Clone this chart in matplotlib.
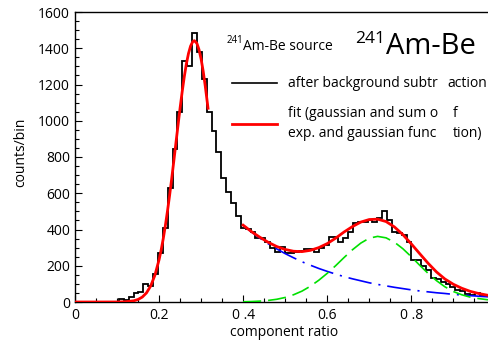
import numpy as np
import matplotlib
matplotlib.use("Agg")
import matplotlib.pyplot as plt
from matplotlib.ticker import MultipleLocator, FixedLocator, FixedFormatter
from matplotlib.lines import Line2D

plt.rcParams['font.family'] = ['Open Sans', 'DejaVu Sans']
plt.rcParams['lines.scale_dashes'] = False

# ---------------- data ----------------
bin_width = 0.0116
counts = [0, 0, 0, 0, 0, 0, 0, 0, 0, 15,
          10, 25, 48, 55, 99, 90, 155, 272, 406, 627,
          844, 1046, 1331, 1302, 1482, 1381, 1230, 1046, 945, 826,
          682, 608, 544, 474, 410, 405, 386, 351, 351, 333,
          296, 278, 305, 268, 272, 278, 284, 290, 290, 278,
          296, 314, 360, 360, 333, 351, 386, 434, 443, 440,
          450, 443, 462, 504, 455, 388, 379, 370, 333, 232,
          232, 198, 177, 131, 125, 110, 99, 85, 68, 63,
          42, 40, 52, 39, 38]

peak_fit_x = [0.0, 0.05, 0.10, 0.12, 0.14, 0.15, 0.16, 0.17, 0.18, 0.19,
              0.20, 0.205, 0.21, 0.215, 0.22, 0.225, 0.23, 0.235, 0.24, 0.245,
              0.25, 0.255, 0.26, 0.265, 0.27, 0.275, 0.28, 0.284, 0.29, 0.295,
              0.30, 0.305, 0.31, 0.3165]
peak_fit_y = [0, 0, 0.2, 1.4, 6.8, 14, 27, 50, 88, 147,
              233, 287, 350, 422, 501, 587, 679, 776, 875, 973,
              1070, 1160, 1243, 1314, 1371, 1412, 1436, 1442, 1427, 1393,
              1341, 1273, 1190, 1069]

tail_x = [0.40, 0.42, 0.44, 0.46, 0.48, 0.50, 0.52, 0.54, 0.56, 0.58,
          0.60, 0.62, 0.64, 0.66, 0.68, 0.70, 0.72, 0.74, 0.76, 0.78,
          0.80, 0.82, 0.84, 0.86, 0.88, 0.90, 0.92, 0.94, 0.96, 0.98, 0.99]
exp_part = [423, 386, 352, 321, 293, 267, 244, 222, 203, 185,
            169, 154, 140, 128, 117, 106, 97, 89, 81, 74,
            67, 61, 56, 51, 47, 42, 39, 35, 32, 29, 28]
gaus_part = [1.3, 2.5, 4.8, 8.7, 15, 25, 40, 60, 87, 120,
             158, 200, 245, 288, 325, 352, 362, 354, 330, 294,
             250, 203, 158, 118, 84, 58, 40, 27, 19, 13, 11]
sum_fit = [424, 388, 357, 329, 306, 290, 280, 278, 285, 300,
           322, 352, 386, 416, 441, 455, 457, 444, 414, 372,
           321, 267, 214, 166, 127, 98, 76, 59, 47, 38, 35]

xtick_values = [0, 0.2, 0.4, 0.6, 0.8]
xtick_labels = ["0", "0.2", "0 .4", "0.6", "0 .8"]
ytick_values = [0, 200, 400, 600, 800, 1000, 1200, 1400, 1600]
ytick_labels = [str(v) for v in ytick_values]

# ---------------- figure ----------------
W, H = 489, 343
fig = plt.figure(figsize=(W / 100, H / 100), dpi=100)
ax = fig.add_axes([75 / W, 41 / H, 414 / W, 290 / H])

edges = np.arange(len(counts) + 1) * bin_width
ax.stairs(counts, edges, color='black', lw=1.3, zorder=2)

ax.plot(tail_x, exp_part, color='#0000ff', lw=1.2,
        linestyle=(0, (17, 5, 1.5, 5)), zorder=3)
ax.plot(tail_x, gaus_part, color='#00e000', lw=1.2,
        linestyle=(0, (13, 5)), zorder=3)
ax.plot(tail_x, sum_fit, color='#ff0000', lw=2.0, zorder=4)
ax.plot(peak_fit_x, peak_fit_y, color='#ff0000', lw=2.0, zorder=4)

ax.set_xlim(0, 0.985)
ax.set_ylim(0, 1600)

ax.xaxis.set_major_locator(FixedLocator(xtick_values))
ax.xaxis.set_major_formatter(FixedFormatter(xtick_labels))
ax.xaxis.set_minor_locator(MultipleLocator(0.05))
ax.yaxis.set_major_locator(FixedLocator(ytick_values))
ax.yaxis.set_major_formatter(FixedFormatter(ytick_labels))
ax.yaxis.set_minor_locator(MultipleLocator(50))

ax.tick_params(which='both', direction='in', top=False, right=False,
               width=0.8, labelsize=10)
ax.tick_params(which='major', length=5)
ax.tick_params(which='minor', length=3)
ax.tick_params(axis='x', pad=4)
ax.tick_params(axis='y', pad=3.5)

for s in ['left', 'bottom', 'top']:
    ax.spines[s].set_linewidth(1.0)
ax.spines['right'].set_visible(False)


def px(x, y):
    return x / W, 1 - y / H


fig.text(*px(21, 152), "counts/bin", rotation=90, ha='center', va='center', fontsize=10)
fig.text(*px(284, 333), "component ratio", ha='center', va='center', fontsize=10)

# source labels
fig.text(*px(227, 42.7), "241", fontsize=7, va='baseline', ha='left')
fig.text(*px(243, 50), "Am-Be source", fontsize=10, va='baseline', ha='left')
fig.text(*px(355, 43), "241", fontsize=12.5, va='baseline', ha='left')
fig.text(*px(386, 54), "Am-Be", fontsize=21, va='baseline', ha='left')

# legend
fig.add_artist(Line2D([232 / W, 277 / W], [1 - 83 / H, 1 - 83 / H],
                      color='black', lw=1.2))
fig.add_artist(Line2D([232 / W, 277 / W], [1 - 124 / H, 1 - 124 / H],
                      color='#ff0000', lw=2.0))
fig.text(*px(288, 86.7), "after background subtr", fontsize=10, va='baseline')
fig.text(*px(447, 86.7), "action", fontsize=10, va='baseline')
fig.text(*px(288, 116.7), "fit (gaussian and sum o", fontsize=10, va='baseline')
fig.text(*px(453, 116.7), "f", fontsize=10, va='baseline')
fig.text(*px(288, 136.7), "exp. and gaussian func", fontsize=10, va='baseline')
fig.text(*px(453, 136.7), "tion)", fontsize=10, va='baseline')

fig.savefig('out.png', dpi=100)
